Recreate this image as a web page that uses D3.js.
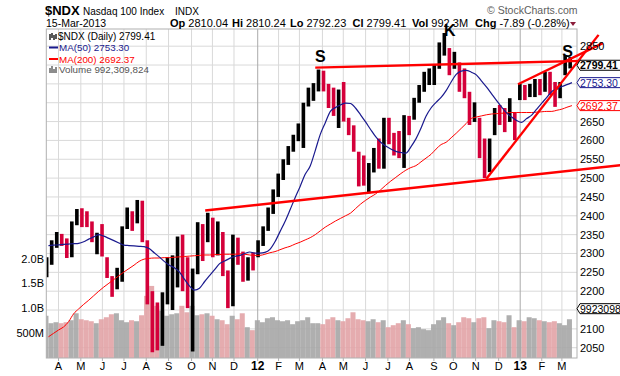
<!DOCTYPE html>
<html>
<head>
<meta charset="utf-8">
<script src="https://cdn.jsdelivr.net/npm/d3@7"></script>
<style>
  body { margin: 0; background: #fff; }
  text { font-family: "Liberation Sans", Arial, sans-serif; }
</style>
</head>
<body>
<div id="chart"></div>
<script>
// weekly bars (week ending Friday)
const firstWeek = "2011-03-18", lastWeek = "2013-03-15";
const highs = [2290,2335,2357,2352,2340,2385,2418,2420,2412,2385,2355,2378,2290,2240,2262,2372,2422,2412,2442,2440,
  2335,2200,2170,2197,2290,2295,2345,2350,2290,2260,2383,2378,2408,2395,2385,2357,2255,2350,2342,2305,
  2290,2303,2335,2372,2422,2470,2512,2550,2585,2615,2645,2700,2740,2752,2788,2785,2750,2740,2735,2755,
  2660,2640,2570,2560,2540,2580,2605,2660,2660,2620,2625,2667,2665,2713,2747,2782,2791,2800,2860,2885,
  2845,2835,2807,2791,2729,2701,2660,2605,2605,2686,2694,2686,2712,2675,2750,2747,2750,2763,2763,2782,
  2782,2755,2755,2826,2821];
const lows = [2237,2270,2315,2320,2288,2290,2375,2370,2370,2330,2298,2292,2235,2185,2205,2225,2365,2360,2380,2330,
  2165,2038,2043,2055,2165,2150,2210,2200,2155,2040,2245,2280,2330,2290,2295,2240,2155,2160,2270,2225,
  2228,2255,2290,2320,2360,2405,2450,2495,2535,2570,2598,2580,2690,2705,2730,2730,2686,2665,2633,2650,
  2614,2570,2478,2480,2460,2515,2525,2525,2590,2560,2553,2527,2614,2655,2700,2729,2747,2747,2790,2825,
  2773,2790,2729,2712,2641,2649,2553,2500,2516,2614,2641,2622,2649,2601,2707,2707,2715,2715,2720,2729,
  2720,2689,2712,2773,2791];
const closes = [2265,2325,2345,2330,2300,2378,2405,2385,2380,2345,2350,2300,2240,2212,2225,2368,2410,2380,2432,2340,
  2195,2155,2060,2170,2185,2215,2335,2225,2160,2250,2378,2345,2395,2340,2355,2250,2160,2330,2320,2240,
  2285,2280,2325,2365,2415,2460,2505,2540,2578,2605,2635,2690,2735,2740,2775,2745,2705,2690,2720,2660,
  2630,2575,2535,2500,2530,2570,2540,2650,2620,2600,2590,2655,2650,2705,2740,2770,2770,2790,2850,2850,
  2800,2825,2740,2720,2660,2670,2570,2515,2600,2660,2650,2640,2680,2615,2735,2730,2740,2750,2740,2770,
  2760,2720,2745,2795,2799.41];
// average daily volume per week, millions
const volumes = [850,700,720,700,720,760,900,780,760,740,700,780,820,880,900,760,720,760,740,860,
  1250,1450,1050,950,850,880,900,1050,920,1050,860,880,900,850,780,760,680,850,780,900,
  620,560,760,720,800,820,760,740,760,680,740,760,820,700,700,680,780,820,760,740,
  800,920,780,760,740,780,720,760,620,660,700,760,680,600,620,580,560,680,760,820,
  700,660,720,820,800,720,800,820,600,760,740,720,860,620,760,740,820,800,760,740,
  720,740,700,660,780];
const ma50 = [2321,2322,2323,2324,2325,2326,2327,2331,2338,2344,2350,2346,2340,2334,2328,2322,2321,2320,2319,2318,
  2313,2302,2291,2279,2269,2262,2251,2232,2214,2203,2208,2225,2241,2257,2273,2280,2287,2292,2295,2300,
  2304,2301,2301,2303,2311,2331,2358,2385,2416,2448,2478,2510,2532,2573,2616,2647,2677,2687,2694,2699,
  2698,2686,2668,2649,2629,2610,2595,2585,2577,2571,2568,2566,2583,2604,2632,2664,2686,2701,2714,2732,
  2755,2775,2784,2786,2781,2774,2758,2742,2724,2706,2689,2673,2662,2653,2648,2658,2667,2683,2699,2714,
  2730,2736,2743,2748,2753.3];
const ma200 = [2079,2088,2097,2105,2119,2140,2153,2165,2176,2188,2200,2211,2221,2231,2241,2251,2260,2269,2279,2285,
  2287,2288,2288,2289,2289,2290,2291,2292,2293,2294,2295,2296,2296,2297,2297,2298,2298,2298,2299,2298,
  2296,2295,2295,2298,2302,2305,2310,2315,2319,2325,2330,2336,2342,2350,2360,2370,2378,2386,2393,2400,
  2407,2419,2431,2441,2450,2458,2469,2481,2492,2502,2512,2521,2528,2533,2543,2553,2563,2577,2589,2595,
  2607,2619,2632,2645,2658,2662,2665,2668,2670,2671,2672,2673,2674,2674,2674,2674,2674,2675,2676,2677,
  2677,2680,2683,2688,2692.37];

const monthStarts = ["2011-04-01","2011-05-02","2011-06-01","2011-07-01","2011-08-01","2011-09-01","2011-10-03",
  "2011-11-01","2011-12-01","2012-01-03","2012-02-01","2012-03-01","2012-04-02","2012-05-01","2012-06-01",
  "2012-07-02","2012-08-01","2012-09-04","2012-10-01","2012-11-01","2012-12-03","2013-01-02","2013-02-01","2013-03-01"];
const monthLabels = ["A","M","J","J","A","S","O","N","D","12","F","M","A","M","J","J","A","S","O","N","D","13","F","M"];
const priceTicks = [2050,2100,2150,2200,2250,2300,2350,2400,2450,2500,2550,2600,2650,2700,2750,2800,2850];
const volTicks = [500e6, 1e9, 1.5e9, 2e9];
const volTickLabels = ["500M","1.0B","1.5B","2.0B"];

// hand drawn annotation lines and labels
const trendLines = [
  ["2011-10-22", 2414, "2013-05-21", 2534],
  ["2012-03-23", 2793, "2013-03-28", 2811],
  ["2012-11-16", 2498, "2013-04-21", 2880],
  ["2012-12-30", 2749, "2013-04-27", 2858]
];
const patternLabels = [["S","2012-03-30",2809],["K","2012-09-26",2878],["S","2013-03-09",2821]];

const quote = [["Op","2810.04"],["Hi","2810.24"],["Lo","2792.23"],["Cl","2799.41"],["Vol","992.3M"],["Chg","-7.89 (-0.28%)"]];
const quoteX = [170,232,290,352.5,412,475];

const W = 620, H = 376;
const L = 46.3, R = 577, T = 29, B = 358;
const parse = d3.utcParse("%Y-%m-%d");
const weeks = d3.utcFriday.range(parse(firstWeek), d3.utcDay.offset(parse(lastWeek), 1));
const data = weeks.map((d, i) => ({
  date: d, high: highs[i], low: lows[i], close: closes[i], vol: volumes[i] * 1e6,
  ma50: ma50[i], ma200: ma200[i],
  up: i === 0 ? true : closes[i] >= closes[i - 1]
}));

const x = d3.scaleUtc().domain([parse("2011-03-15"), parse("2013-03-22")]).range([L, R]);
const y = d3.scaleLinear().domain([2022.7, 2895.6]).range([B, T]);
const yv = d3.scaleLinear().domain([0, 2e9]).range([B, 258.6]);

const svg = d3.select("#chart").append("svg")
  .attr("width", W).attr("height", H)
  .style("display", "block");

svg.append("defs").append("clipPath").attr("id", "plot")
  .append("rect").attr("x", L).attr("y", T).attr("width", R - L).attr("height", B - T);

const isYear = i => /^\d/.test(monthLabels[i]);

// grid
const grid = svg.append("g");
grid.selectAll("line.h").data(priceTicks).join("line")
  .attr("x1", L).attr("x2", R).attr("y1", d => y(d)).attr("y2", d => y(d))
  .attr("stroke", "#d9d9d9").attr("stroke-width", 1);
grid.selectAll("line.v").data(monthStarts).join("line")
  .attr("x1", d => x(parse(d))).attr("x2", d => x(parse(d)))
  .attr("y1", T).attr("y2", B)
  .attr("stroke", (d, i) => isYear(i) ? "#aaaaaa" : "#d9d9d9").attr("stroke-width", 1);

const plot = svg.append("g").attr("clip-path", "url(#plot)");

// volume
plot.selectAll("rect.vol").data(data).join("rect")
  .attr("x", d => x(d3.utcDay.offset(d.date, -7)))
  .attr("width", d => x(d.date) - x(d3.utcDay.offset(d.date, -7)))
  .attr("y", d => yv(d.vol))
  .attr("height", d => B - yv(d.vol))
  .attr("fill", d => d.up ? "#a6a6a6" : "#e2a3a6")
  .attr("fill-opacity", 0.9);

// price bars
plot.selectAll("rect.bar").data(data).join("rect")
  .attr("x", d => x(d3.utcDay.offset(d.date, -5)))
  .attr("width", d => x(d.date) - x(d3.utcDay.offset(d.date, -5)))
  .attr("y", d => y(d.high))
  .attr("height", d => y(d.low) - y(d.high))
  .attr("fill", d => d.up ? "#000" : "#d4003a");

// moving averages
const maLine = key => d3.line().curve(d3.curveMonotoneX)
  .x(d => x(d.date)).y(d => y(d[key]));
plot.append("path").datum(data).attr("d", maLine("ma200"))
  .attr("fill", "none").attr("stroke", "#ff0000").attr("stroke-width", 1);
plot.append("path").datum(data).attr("d", maLine("ma50"))
  .attr("fill", "none").attr("stroke", "#1a1a8e").attr("stroke-width", 1.2);

// frame
svg.append("rect").attr("x", L).attr("y", T).attr("width", R - L).attr("height", B - T)
  .attr("fill", "none").attr("stroke", "#b0b0b0");

// trend lines
svg.selectAll("line.trend").data(trendLines).join("line")
  .attr("x1", d => x(parse(d[0]))).attr("y1", d => y(d[1]))
  .attr("x2", d => x(parse(d[2]))).attr("y2", d => y(d[3]))
  .attr("stroke", "#ff0000").attr("stroke-width", 2.4);

svg.selectAll("text.pat").data(patternLabels).join("text")
  .attr("x", d => x(parse(d[1]))).attr("y", d => y(d[2]))
  .attr("text-anchor", "middle").attr("font-size", 16).attr("font-weight", "bold")
  .text(d => d[0]);

// value tags on right axis
const tags = [
  {v: "2799.41", y: y(2799.41), c: "#000", bold: true},
  {v: "2753.30", y: y(2753.30), c: "#1a1a8e"},
  {v: "2692.37", y: y(2692.37), c: "#ff0000"},
  {v: "992309824", y: yv(992309824), c: "#000"}
];

// right price axis
svg.selectAll("text.pt").data(priceTicks.filter(p => tags.every(t => Math.abs(t.y - y(p)) > 8))).join("text")
  .attr("x", 580).attr("y", d => y(d) + 4)
  .attr("font-size", 11).attr("fill", "#000").text(d => d);

const tg = svg.selectAll("g.tag").data(tags).join("g");
tg.append("path")
  .attr("d", d => `M${R},${d.y} L${R + 3},${d.y - 5} L${W + 5},${d.y - 5} L${W + 5},${d.y + 5} L${R + 3},${d.y + 5} Z`)
  .attr("fill", "#fff").attr("stroke", d => d.c).attr("stroke-width", 1);
tg.append("text").attr("x", R + 3).attr("y", d => d.y + 4)
  .attr("font-size", 10.5).attr("fill", d => d.c).attr("font-weight", d => d.bold ? "bold" : "normal")
  .text(d => d.v);

// left volume axis
svg.selectAll("text.vt").data(volTicks).join("text")
  .attr("x", 44).attr("y", d => yv(d) + 4).attr("text-anchor", "end")
  .attr("font-size", 11).text((d, i) => volTickLabels[i]);

// bottom month axis
svg.selectAll("text.mt").data(monthStarts).join("text")
  .attr("x", d => x(parse(d))).attr("y", 370).attr("text-anchor", "middle")
  .attr("font-size", (d, i) => isYear(i) ? 12 : 11)
  .attr("font-weight", (d, i) => isYear(i) ? "bold" : "normal")
  .text((d, i) => monthLabels[i]);
svg.selectAll("line.mt").data(monthStarts).join("line")
  .attr("x1", d => x(parse(d))).attr("x2", d => x(parse(d)))
  .attr("y1", B).attr("y2", B + 3).attr("stroke", "#b0b0b0");

// header
svg.append("text").attr("x", 45).attr("y", 15).attr("font-size", 13).attr("font-weight", "bold").text("$NDX");
svg.append("text").attr("x", 83).attr("y", 14.5).attr("font-size", 10).text("Nasdaq 100 Index");
svg.append("text").attr("x", 175).attr("y", 14.5).attr("font-size", 10).text("INDX");
svg.append("text").attr("x", 46).attr("y", 26.5).attr("font-size", 10.5).text("15-Mar-2013");
svg.append("text").attr("x", 487).attr("y", 13.5).attr("font-size", 10.5).attr("fill", "#606060").text("\u00a9 StockCharts.com");
const q = svg.selectAll("text.q").data(quote).join("text")
  .attr("x", (d, i) => quoteX[i]).attr("y", 26.5).attr("font-size", 11);
q.append("tspan").attr("font-weight", "bold").text(d => d[0] + " ");
q.append("tspan").text(d => d[1]);
svg.append("path").attr("d", "M570,22 L576,22 L573,26 Z").attr("fill", "#8b1c3a");

// legend
const lg = svg.append("g");
lg.append("path").attr("d", "M50,34 V40 M52,33 V38 M54,35 V40 M56,34 V39").attr("stroke", "#000").attr("stroke-width", 1.3);
lg.append("text").attr("x", 58).attr("y", 40).attr("font-family", "DejaVu Sans Mono").attr("font-size", 10).text("$NDX (Daily) 2799.41");
lg.append("line").attr("x1", 49).attr("x2", 58).attr("y1", 47.5).attr("y2", 47.5).attr("stroke", "#1a1a8e").attr("stroke-width", 2);
lg.append("text").attr("x", 59).attr("y", 51).attr("font-size", 9.8).attr("fill", "#1a1a8e").text("MA(50) 2753.30");
lg.append("line").attr("x1", 49).attr("x2", 58).attr("y1", 59).attr("y2", 59).attr("stroke", "#ff0000").attr("stroke-width", 2);
lg.append("text").attr("x", 59).attr("y", 62.5).attr("font-size", 9.8).attr("fill", "#ff0000").text("MA(200) 2692.37");
lg.append("path").attr("d", "M50,73 V68 M52,73 V66 M54,73 V69 M56,73 V67").attr("stroke", "#666").attr("stroke-width", 1.5);
lg.append("text").attr("x", 59).attr("y", 73).attr("font-size", 9.8).attr("fill", "#555").text("Volume 992,309,824");
</script>
</body>
</html>
